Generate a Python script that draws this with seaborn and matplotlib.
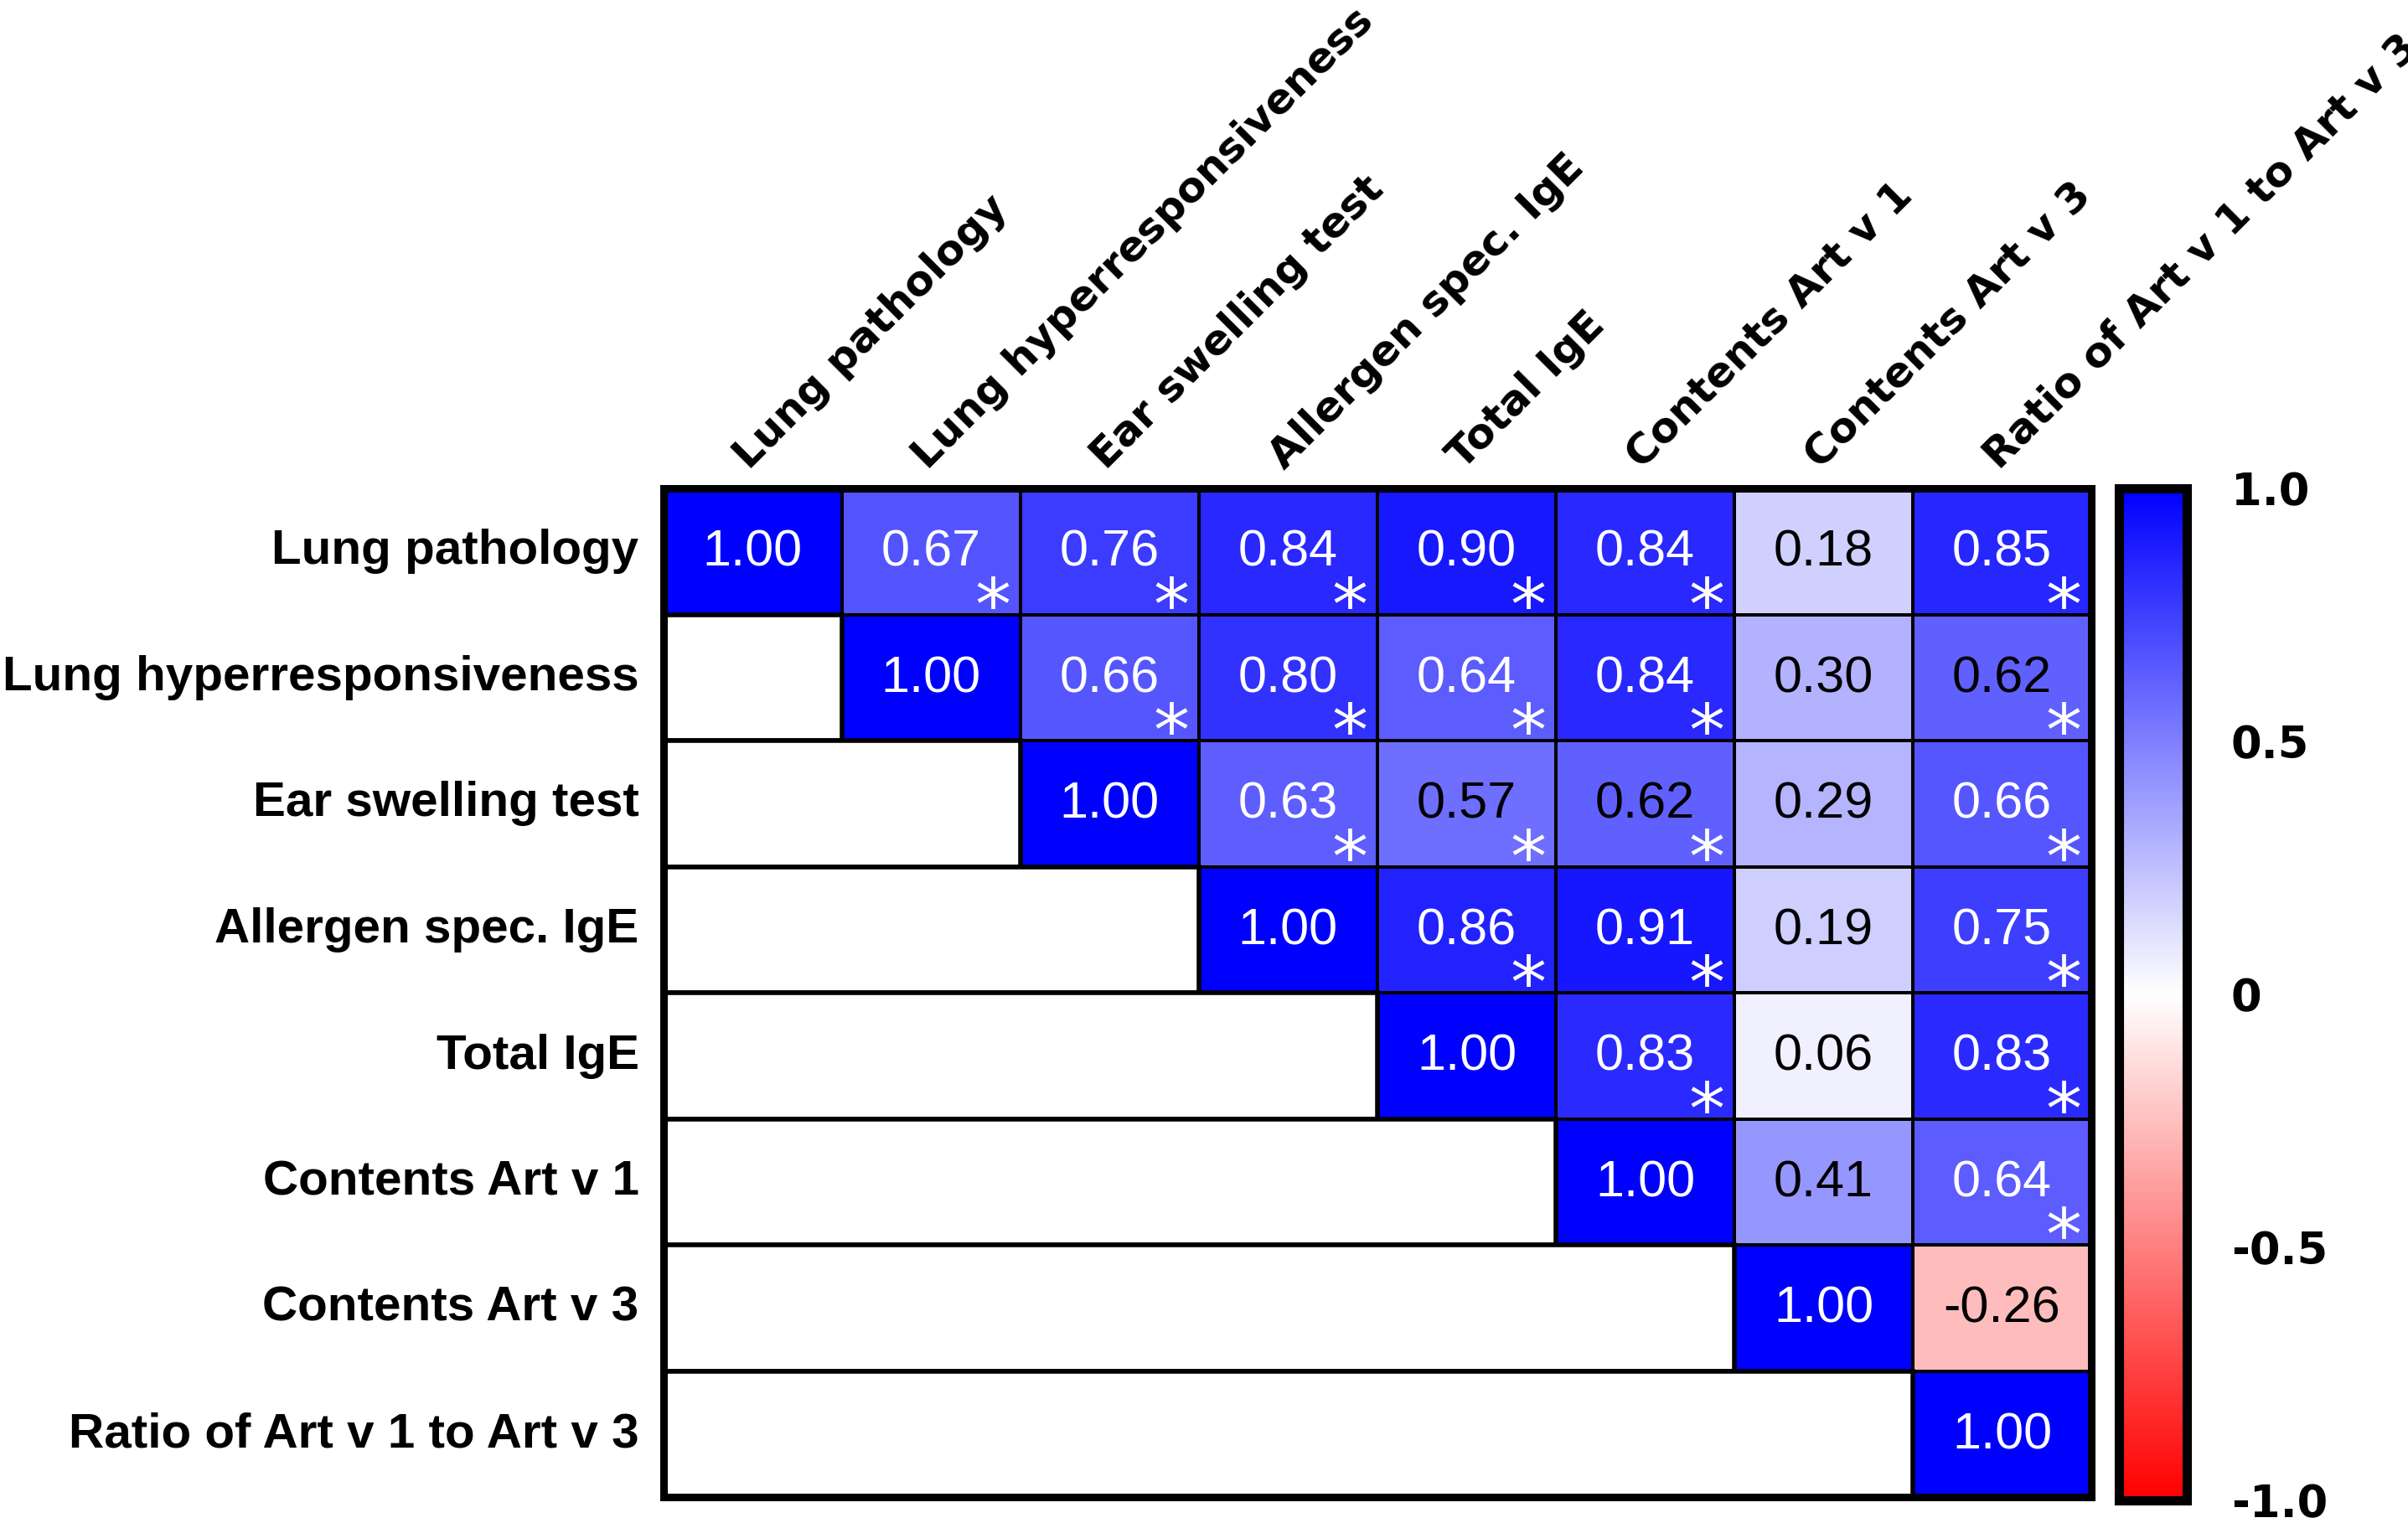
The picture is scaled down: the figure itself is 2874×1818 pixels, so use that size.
import numpy as np
import pandas as pd
import matplotlib
matplotlib.use("Agg")
import matplotlib.pyplot as plt
import seaborn as sns
from matplotlib.colors import LinearSegmentedColormap
from matplotlib.patches import Rectangle

# ---------------- data ----------------
variables = ["Lung pathology", "Lung hyperresponsiveness", "Ear swelling test",
             "Allergen spec. IgE", "Total IgE", "Contents Art v 1",
             "Contents Art v 3", "Ratio of Art v 1 to Art v 3"]

# upper-triangle correlation values, each row starts at the diagonal
row_lung_pathology = [1.00, 0.67, 0.76, 0.84, 0.90, 0.84, 0.18, 0.85]
row_lung_hyper     = [1.00, 0.66, 0.80, 0.64, 0.84, 0.30, 0.62]
row_ear_swelling   = [1.00, 0.63, 0.57, 0.62, 0.29, 0.66]
row_allergen_ige   = [1.00, 0.86, 0.91, 0.19, 0.75]
row_total_ige      = [1.00, 0.83, 0.06, 0.83]
row_art_v1         = [1.00, 0.41, 0.64]
row_art_v3         = [1.00, -0.26]
row_ratio          = [1.00]

# significance flags (asterisk), same layout
sig_lung_pathology = [0, 1, 1, 1, 1, 1, 0, 1]
sig_lung_hyper     = [0, 1, 1, 1, 1, 0, 1]
sig_ear_swelling   = [0, 1, 1, 1, 0, 1]
sig_allergen_ige   = [0, 1, 1, 0, 1]
sig_total_ige      = [0, 1, 0, 1]
sig_art_v1         = [0, 0, 1]
sig_art_v3         = [0, 0]
sig_ratio          = [0]

cbar_ticks = [-1.0, -0.5, 0.0, 0.5, 1.0]
cbar_ticklabels = ["-1.0", "-0.5", "0", "0.5", "1.0"]

value_rows = [row_lung_pathology, row_lung_hyper, row_ear_swelling, row_allergen_ige,
              row_total_ige, row_art_v1, row_art_v3, row_ratio]
sig_rows = [sig_lung_pathology, sig_lung_hyper, sig_ear_swelling, sig_allergen_ige,
            sig_total_ige, sig_art_v1, sig_art_v3, sig_ratio]

n = len(variables)
M = np.full((n, n), np.nan)
S = np.zeros((n, n), dtype=int)
for i, (vals, sigs) in enumerate(zip(value_rows, sig_rows)):
    M[i, i:] = vals
    S[i, i:] = sigs
df = pd.DataFrame(M, index=variables, columns=variables)

# ---------------- style ----------------
sns.set_style("white")
plt.rcParams['font.family'] = ['Liberation Sans', 'DejaVu Sans']
plt.rcParams['text.color'] = 'black'
plt.rcParams['xtick.color'] = 'black'
plt.rcParams['ytick.color'] = 'black'
plt.rcParams['xtick.labelcolor'] = 'black'
plt.rcParams['ytick.labelcolor'] = 'black'

cmap = LinearSegmentedColormap.from_list("rwb", [(1, 0, 0), (1, 1, 1), (0, 0, 1)])

fig = plt.figure(figsize=(28.74, 18.18), dpi=100)
fig.patch.set_facecolor("white")
ax = fig.add_axes([0.2755, 0.0168, 0.5930, 0.6625])
cax = fig.add_axes([0.8800, 0.0150, 0.0282, 0.6645])

sns.heatmap(df, ax=ax, cmap=cmap, vmin=-1, vmax=1, mask=np.isnan(M),
            cbar=True, cbar_ax=cax, linewidths=1.5, linecolor="black",
            xticklabels=False, yticklabels=variables)

# blank lower triangle boxes
for i in range(1, n):
    ax.add_patch(Rectangle((0, i), i, 1, facecolor="white", edgecolor="black",
                           lw=4, zorder=3))

# cell annotations
for i in range(n):
    for j in range(i, n):
        v = M[i, j]
        col = "white" if v > 0.625 else "black"
        ax.text(j + 0.5, i + 0.5 + 0.115, f"{v:.2f}", ha="center", va="baseline",
                fontsize=44, color=col, family=["Liberation Sans"], zorder=4)
        if S[i, j]:
            ax.text(j + 0.845, i + 1.0 + 0.12, "*", ha="center", va="baseline",
                    fontsize=62, color="white", family=["DejaVu Sans"], zorder=4)

# frame
for sp in ax.spines.values():
    sp.set_visible(True)
    sp.set_linewidth(6.5)
    sp.set_color("black")
    sp.set_zorder(5)

# row labels
ax.set_yticklabels(variables, rotation=0, fontsize=42, fontweight="bold",
                   family=["Liberation Sans"], color="black")
ax.tick_params(axis="y", length=0, pad=21)
ax.set_xlabel("")
ax.set_ylabel("")

# column labels (rotated)
for j, lab in enumerate(variables):
    ax.text(j + 0.48, -0.14, lab, rotation=45, rotation_mode="anchor",
            ha="left", va="baseline", fontsize=36, fontweight="bold",
            family=["DejaVu Sans"], color="black", clip_on=False)

# colorbar
cbar = ax.collections[0].colorbar
cbar.set_ticks(cbar_ticks)
cbar.set_ticklabels(cbar_ticklabels)
cbar.outline.set_linewidth(8)
cbar.outline.set_edgecolor("black")
cax.tick_params(direction="in", length=14, width=4, left=True, right=True,
                labelleft=False, labelright=True, pad=38, labelsize=38, color="black")
for t in cax.get_yticklabels():
    t.set_fontweight("bold")
    t.set_family(["DejaVu Sans"])
    t.set_color("black")

fig.savefig("out.png", dpi=100, facecolor="white")
